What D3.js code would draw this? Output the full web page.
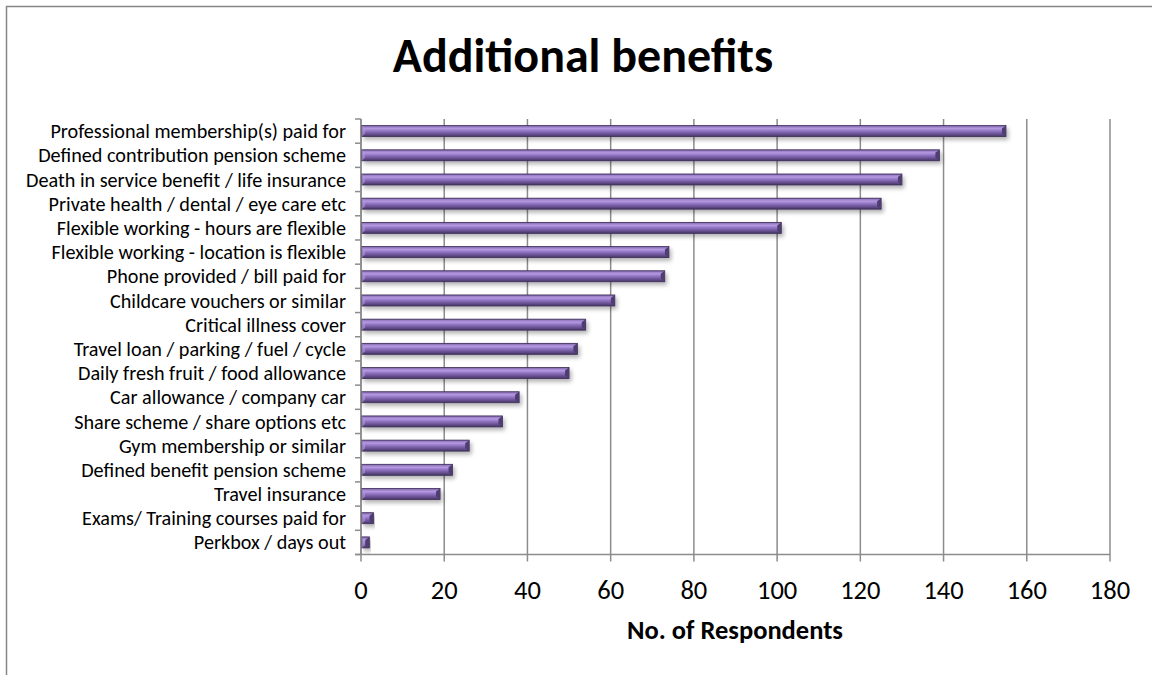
<!DOCTYPE html>
<html>
<head>
<meta charset="utf-8">
<script src="https://cdn.jsdelivr.net/npm/d3@7/dist/d3.min.js"></script>
<style>
  html, body { margin: 0; padding: 0; background: #fff; }
  svg { display: block; }
  text { font-family: Carlito, Calibri, Lato, sans-serif; fill: #000; }
</style>
</head>
<body>
<svg id="chart" width="1152" height="675"></svg>
<script>
const categories = [
  "Professional membership(s) paid for",
  "Defined contribution pension scheme",
  "Death in service benefit / life insurance",
  "Private health / dental / eye care etc",
  "Flexible working - hours are flexible",
  "Flexible working - location is flexible",
  "Phone provided / bill paid for",
  "Childcare vouchers or similar",
  "Critical illness cover",
  "Travel loan / parking / fuel / cycle",
  "Daily fresh fruit / food allowance",
  "Car allowance / company car",
  "Share scheme / share options etc",
  "Gym membership or similar",
  "Defined benefit pension scheme",
  "Travel insurance",
  "Exams/ Training courses paid for",
  "Perkbox / days out"
];
const respondents = [155, 139, 130, 125, 101, 74, 73, 61, 54, 52, 50, 38, 34, 26, 22, 19, 3, 2];
const xTicks = [0, 20, 40, 60, 80, 100, 120, 140, 160, 180];
const titleText = "Additional benefits";
const xAxisTitle = "No. of Respondents";

const svg = d3.select("#chart");
const W = 1152, H = 675;
const plot = { left: 361, right: 1110, top: 119, bottom: 554.5 };

// chart border
svg.append("rect")
  .attr("x", 6.5).attr("y", 6.5)
  .attr("width", W + 20).attr("height", H + 20)
  .attr("fill", "#fff").attr("stroke", "#878787").attr("stroke-width", 1.5);

const defs = svg.append("defs");
const grad = defs.append("linearGradient").attr("id", "barGrad")
  .attr("x1", 0).attr("y1", 0).attr("x2", 0).attr("y2", 1);
[
  [0, "#6d559a"], [0.12, "#9a7fc8"], [0.28, "#b59ae0"], [0.42, "#9c7fcf"],
  [0.62, "#7e63ab"], [0.82, "#604a88"], [1, "#43335f"]
].forEach(([o, c]) => grad.append("stop").attr("offset", o).attr("stop-color", c));

const shadow = defs.append("filter").attr("id", "shadow")
  .attr("x", "-5%").attr("y", "-50%").attr("width", "115%").attr("height", "250%");
shadow.append("feGaussianBlur").attr("in", "SourceAlpha").attr("stdDeviation", 2.2).attr("result", "b");
shadow.append("feOffset").attr("in", "b").attr("dx", 2).attr("dy", 3).attr("result", "o");
shadow.append("feComponentTransfer").attr("in", "o").attr("result", "s")
  .append("feFuncA").attr("type", "linear").attr("slope", 0.3);
const merge = shadow.append("feMerge");
merge.append("feMergeNode").attr("in", "s");
merge.append("feMergeNode").attr("in", "SourceGraphic");

const x = d3.scaleLinear().domain([0, 180]).range([plot.left, plot.right]);
const y = d3.scaleBand().domain(categories).range([plot.top, plot.bottom]).paddingInner(0).paddingOuter(0);

// gridlines
svg.append("g").selectAll("line").data(xTicks).join("line")
  .attr("x1", d => x(d)).attr("x2", d => x(d))
  .attr("y1", plot.top).attr("y2", plot.bottom + 7)
  .attr("stroke", "#8c8c8c").attr("stroke-width", 1.5);

// x tick labels
svg.append("g").selectAll("text").data(xTicks).join("text")
  .attr("x", d => x(d)).attr("y", 599)
  .attr("text-anchor", "middle")
  .style("font-size", "26.5px")
  .text(d => d);

// y axis line and ticks
svg.append("line")
  .attr("x1", plot.left).attr("x2", plot.left)
  .attr("y1", plot.top).attr("y2", plot.bottom)
  .attr("stroke", "#8c8c8c").attr("stroke-width", 1.5);
const yTickPos = categories.map(c => y(c)).concat([plot.bottom]);
svg.append("g").selectAll("line").data(yTickPos).join("line")
  .attr("x1", plot.left - 6).attr("x2", plot.left)
  .attr("y1", d => d).attr("y2", d => d)
  .attr("stroke", "#8c8c8c").attr("stroke-width", 1.5);
// x axis baseline
svg.append("line")
  .attr("x1", plot.left - 6).attr("x2", plot.right)
  .attr("y1", plot.bottom).attr("y2", plot.bottom)
  .attr("stroke", "#8c8c8c").attr("stroke-width", 1.5);

// bars
const barH = 11;
const bars = svg.append("g").selectAll("g").data(categories).join("g")
  .attr("filter", "url(#shadow)");
bars.append("rect")
  .attr("x", plot.left + 1)
  .attr("y", d => y(d) + y.bandwidth() / 2 - barH / 2)
  .attr("width", (d, i) => x(respondents[i]) - plot.left - 1)
  .attr("height", barH)
  .attr("fill", "url(#barGrad)")
  .attr("stroke", "#3e2f58").attr("stroke-width", 0.8);
// bevel on bar ends
bars.append("path")
  .attr("d", (d, i) => {
    const xe = x(respondents[i]);
    const yt = y(d) + y.bandwidth() / 2 - barH / 2;
    return `M${xe - 4},${yt + 3} L${xe},${yt} L${xe},${yt + barH} L${xe - 4},${yt + barH - 3} Z`;
  })
  .attr("fill", "#4e3c6f");
bars.append("path")
  .attr("d", (d, i) => {
    const xs = plot.left + 1;
    const yt = y(d) + y.bandwidth() / 2 - barH / 2;
    return `M${xs},${yt} L${xs + 3},${yt + 3} L${xs + 3},${yt + barH - 3} L${xs},${yt + barH} Z`;
  })
  .attr("fill", "#b59ae0").attr("opacity", 0.6);

// category labels
svg.append("g").selectAll("text").data(categories).join("text")
  .attr("x", plot.left - 15)
  .attr("y", d => y(d) + y.bandwidth() / 2)
  .attr("dy", "0.35em")
  .attr("text-anchor", "end")
  .style("font-size", "20.2px")
  .text(d => d);

// title
svg.append("text")
  .attr("x", 583).attr("y", 72)
  .attr("text-anchor", "middle")
  .style("font-size", "48px").style("font-weight", "bold")
  .text(titleText);

// x axis title
svg.append("text")
  .attr("x", 735).attr("y", 639)
  .attr("text-anchor", "middle")
  .style("font-size", "26.5px").style("font-weight", "bold")
  .text(xAxisTitle);
</script>
</body>
</html>
